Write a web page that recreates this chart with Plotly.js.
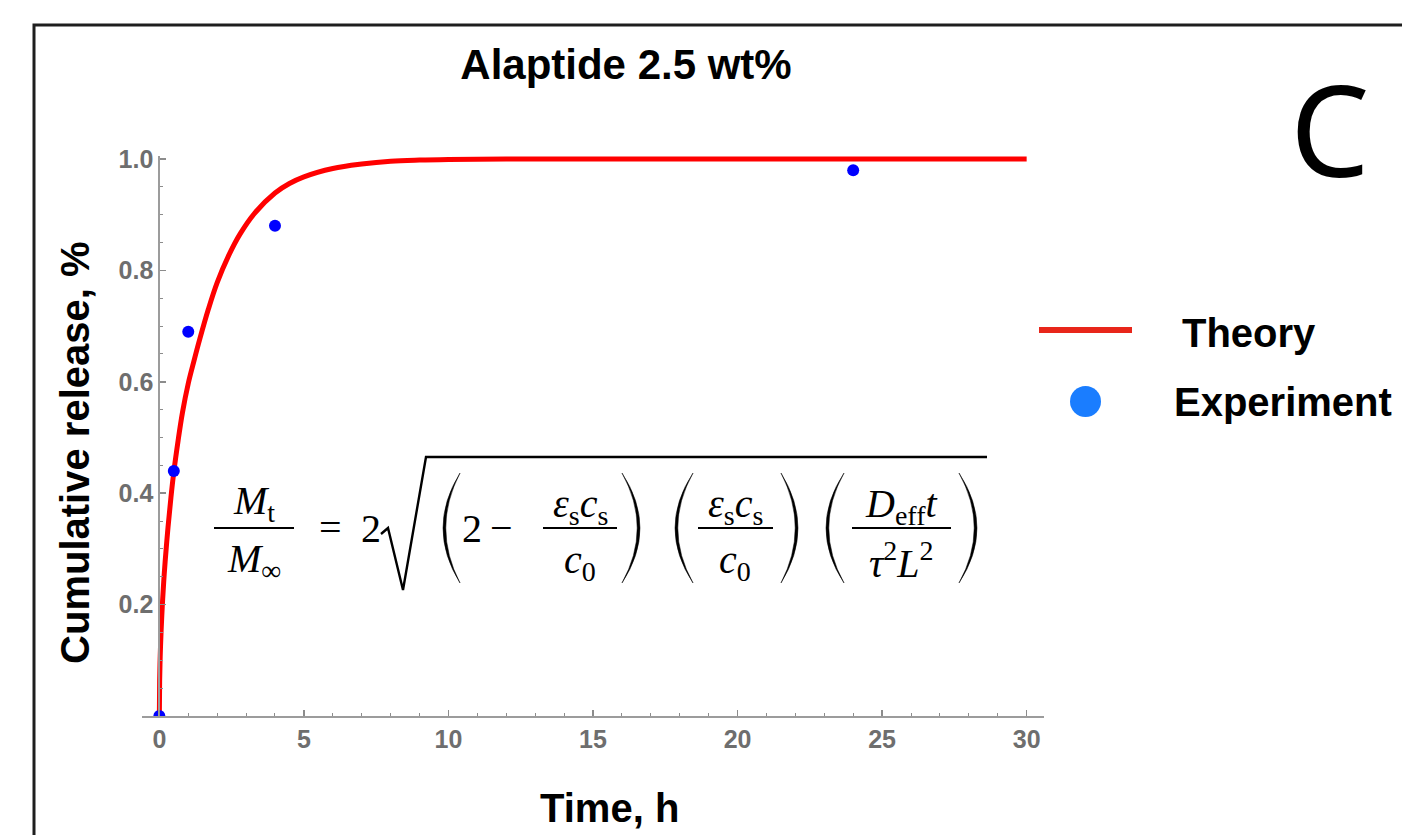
<!DOCTYPE html>
<html>
<head>
<meta charset="utf-8">
<script src="https://cdn.plot.ly/plotly-3.0.1.min.js"></script>
<style>html,body{margin:0;padding:0;background:#fff;}#chart{width:1402px;height:835px;}</style>
</head>
<body>
<div id="chart"></div>
<script>
// ---- data ----
const theoryTime = [0, 0.01, 0.03, 0.06, 0.1, 0.15, 0.2, 0.3, 0.4, 0.5, 0.65, 0.8, 1.0, 1.2, 1.4, 1.7, 2.0, 2.4, 2.8, 3.3, 4.0, 4.5, 5.0, 6.0, 7.0, 8.0, 9.0, 10, 12, 15, 20, 25, 30];
const theoryRelease = [0, 0.062, 0.107, 0.152, 0.196, 0.24, 0.277, 0.339, 0.392, 0.438, 0.495, 0.545, 0.597, 0.638, 0.677, 0.731, 0.778, 0.827, 0.866, 0.903, 0.939, 0.956, 0.968, 0.983, 0.991, 0.996, 0.998, 0.999, 1, 1, 1, 1, 1];
const expTime = [0, 0.5, 1, 4, 24];
const expRelease = [0, 0.44, 0.69, 0.88, 0.98];
const yTickVals = [0.2, 0.4, 0.6, 0.8, 1.0];
const yTickText = ['0.2', '0.4', '0.6', '0.8', '1.0'];
const xTickVals = [0, 5, 10, 15, 20, 25, 30];
const xTickText = ['0', '5', '10', '15', '20', '25', '30'];
const legendLabels = ['Theory', 'Experiment'];

// ---- layout geometry helpers (pixel -> paper) ----
const W = 1402, H = 835;
const M = {l: 142, r: 358, t: 156, b: 119};
const PW = W - M.l - M.r, PH = H - M.t - M.b;
function px(x) { return (x - M.l) / PW; }
function py(y) { return (H - M.b - y) / PH; }
function pt(x, y) { return px(x) + ',' + py(y); }

const serif = 'Liberation Serif, Times New Roman, serif';
const sans = 'Liberation Sans, Arial, Helvetica, sans-serif';
const annotations = [];
const shapes = [];

function txt(text, x, y, size, family, extra) {
  annotations.push(Object.assign({
    xref: 'paper', yref: 'paper', x: px(x), y: py(y), text: text, showarrow: false,
    xanchor: 'center', yanchor: 'middle',
    font: {family: family || serif, size: size || 40, color: '#000'}
  }, extra || {}));
}
function hline(x0, x1, y, w, color) {
  shapes.push({type: 'line', xref: 'paper', yref: 'paper', x0: px(x0), x1: px(x1), y0: py(y), y1: py(y),
    line: {color: color || '#000', width: w || 2}});
}
function paren(a, b, top, bot, left) {
  const th = 2.8, ym = (top + bot) / 2;
  let xe, xend, c1, c2;
  if (left) { xe = a + 5; xend = b - 3; c1 = 2 * xe - xend; c2 = 2 * (xe + th) - xend; }
  else { xe = b - 5; xend = a + 3; c1 = 2 * xe - xend; c2 = 2 * (xe - th) - xend; }
  const path = 'M ' + pt(xend, top) + ' Q ' + pt(c1, ym) + ' ' + pt(xend, bot) +
               ' Q ' + pt(c2, ym) + ' ' + pt(xend, top) + ' Z';
  shapes.push({type: 'path', xref: 'paper', yref: 'paper', path: path, fillcolor: '#000', line: {width: 0.5, color: '#000'}});
}

// frame
shapes.push({type: 'path', xref: 'paper', yref: 'paper', path: 'M ' + pt(34, 840) + ' L ' + pt(34, 25) + ' L ' + pt(1410, 25),
  line: {color: '#1e1e1e', width: 3}});

// formula
const PT = 473, PB = 583;
txt('<i>M</i><sub>t</sub>', 254, 503);
hline(214, 294, 528, 2);
txt('<i>M</i><sub>∞</sub>', 254, 561);
txt('=', 330, 527);
txt('2', 371, 528);
shapes.push({type: 'path', xref: 'paper', yref: 'paper',
  path: 'M ' + pt(381, 534) + ' L ' + pt(388, 528) + ' L ' + pt(403, 590) + ' L ' + pt(426, 457) + ' L ' + pt(987, 457),
  line: {color: '#000', width: 2.4}});
paren(438, 463, PT, PB, true);
txt('2', 472, 528);
txt('−', 501, 527);
txt('<i>ε</i><sub>s</sub><i>c</i><sub>s</sub>', 580, 506);
hline(543, 617, 528, 2);
txt('<i>c</i><sub>0</sub>', 580, 562);
paren(619, 645, PT, PB, false);
paren(670, 696, PT, PB, true);
txt('<i>ε</i><sub>s</sub><i>c</i><sub>s</sub>', 735, 506);
hline(698, 773, 528, 2);
txt('<i>c</i><sub>0</sub>', 735, 562);
paren(778, 803, PT, PB, false);
paren(821, 847, PT, PB, true);
txt('<i>D</i><sub>eff</sub><i>t</i>', 901, 506);
hline(852, 951, 528, 2);
txt('<i>τ</i><sup>2</sup><i>L</i><sup>2</sup>', 901, 560);
paren(956, 982, PT, PB, false);

// legend (drawn manually to match the reference)
hline(1039, 1132, 330, 6, '#e8261a');
shapes.push({type: 'circle', xref: 'paper', yref: 'paper', x0: px(1070), x1: px(1101), y0: py(386), y1: py(417),
  fillcolor: '#1a7dff', line: {width: 0}});
txt('<b>' + legendLabels[0] + '</b>', 1180, 333, 40, sans, {xanchor: 'left'});
txt('<b>' + legendLabels[1] + '</b>', 1172, 402, 40, sans, {xanchor: 'left'});

// panel letter
txt('C', 1330, 128, 126, 'Noto Sans, Liberation Sans, sans-serif');

const axisCommon = {
  showgrid: false, zeroline: false, showline: true, linecolor: '#9c9c9c', linewidth: 2,
  ticks: 'inside', ticklen: 6, tickwidth: 1.5, tickcolor: '#8c8c8c',
  tickfont: {family: sans, size: 25, color: '#6e6e6e', weight: 'bold'},
  fixedrange: true
};

const data = [
  {x: theoryTime, y: theoryRelease, mode: 'lines', name: legendLabels[0],
   line: {color: '#ff0000', width: 5, shape: 'spline', smoothing: 1}, hoverinfo: 'skip'},
  {x: expTime, y: expRelease, mode: 'markers', name: legendLabels[1],
   marker: {color: '#0000ff', size: 12}}
];

const layout = {
  width: W, height: H, autosize: false,
  margin: M,
  paper_bgcolor: '#fff', plot_bgcolor: '#fff',
  showlegend: false,
  title: {text: '<b>Alaptide 2.5 wt%</b>', font: {family: sans, size: 42, color: '#000'},
          xref: 'paper', x: px(626), xanchor: 'center', yref: 'container', y: 1 - 64 / H, yanchor: 'middle'},
  xaxis: Object.assign({}, axisCommon, {
    range: [-0.6, 30.6], tickmode: 'array', tickvals: xTickVals, ticktext: xTickText,
    minor: {ticks: 'inside', ticklen: 3, tickwidth: 1, tickcolor: '#8c8c8c', dtick: 1, tick0: 0, showgrid: false},
    title: {text: '&nbsp;&nbsp;&nbsp;<b>Time, h</b>', font: {family: sans, size: 40, color: '#000'}, standoff: 42}
  }),
  yaxis: Object.assign({}, axisCommon, {
    range: [0, 1.0054], anchor: 'free', position: 0.6 / 31.2,
    tickmode: 'array', tickvals: yTickVals, ticktext: yTickText,
    minor: {ticks: 'inside', ticklen: 3, tickwidth: 1, tickcolor: '#8c8c8c', dtick: 0.05, tick0: 0, showgrid: false},
    title: {text: '<b>Cumulative release, %</b>&nbsp;&nbsp;&nbsp;', font: {family: sans, size: 40, color: '#000'}, standoff: 16}
  }),
  annotations: annotations,
  shapes: shapes
};

Plotly.newPlot('chart', data, layout, {displayModeBar: false, staticPlot: true});
</script>
</body>
</html>
